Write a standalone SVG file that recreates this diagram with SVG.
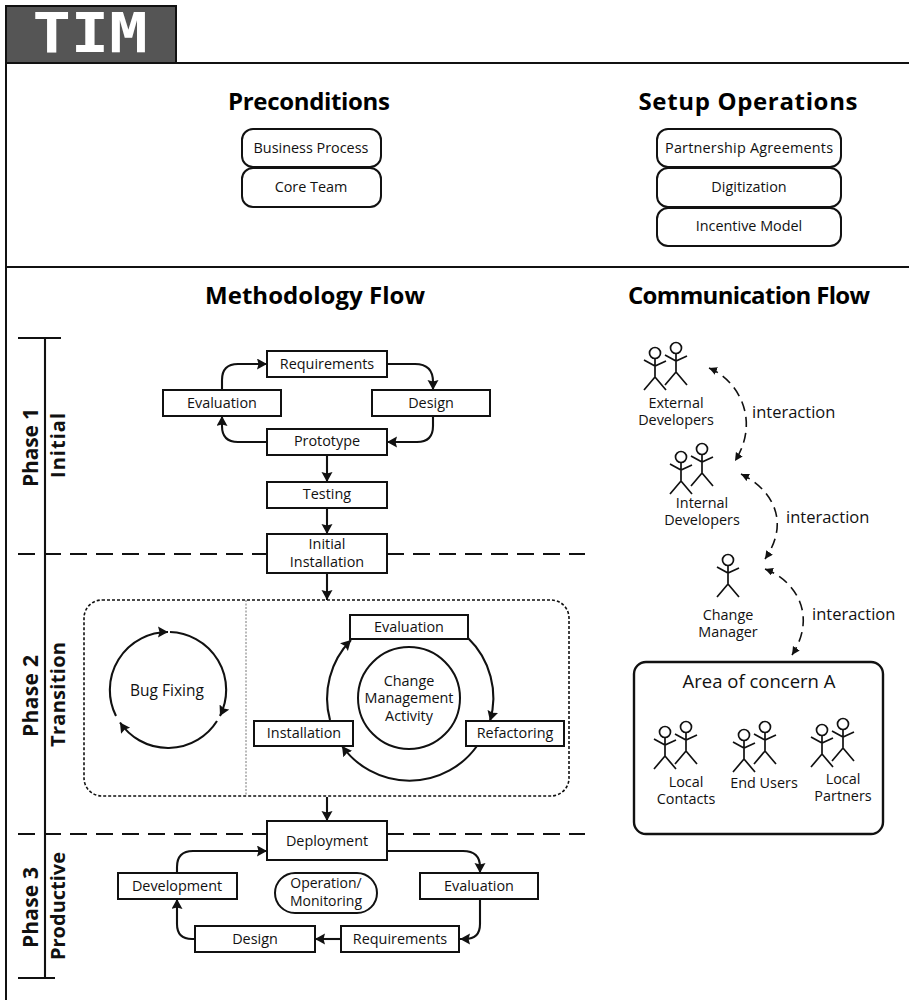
<svg xmlns="http://www.w3.org/2000/svg" width="909" height="1000" viewBox="0 0 909 1000">
<style>
text{font-family:"Open Sans","Noto Sans",sans-serif;fill:#111;text-anchor:middle;font-size:14.4px}
.h{font-size:24px;font-weight:700;fill:#000}
.ph{font-size:21px;font-weight:700}
.ps{font-size:20px;font-weight:700}
.lbl{text-anchor:start;font-size:16.5px}
.box{fill:#fff;stroke:#111;stroke-width:2}
.rr{fill:#fff;stroke:#111;stroke-width:2}
.frame{fill:none;stroke:#111;stroke-width:2}
.dash{fill:none;stroke:#111;stroke-width:2.2;stroke-dasharray:17 9}
.c{fill:none;stroke:#111;stroke-width:2.1}
.a{marker-end:url(#arr)}
.d{fill:none;stroke:#111;stroke-width:1.6;stroke-dasharray:10 6;marker-end:url(#sm);marker-start:url(#sm)}
.st{fill:none;stroke:#111;stroke-width:1.7}
</style>
<defs>
<marker id="arr" markerUnits="userSpaceOnUse" markerWidth="12" markerHeight="12" refX="10" refY="5.5" orient="auto"><path d="M0,0 L10,5.5 L0,11 L1.5,5.5 Z" fill="#111"/></marker>
<marker id="sm" markerUnits="userSpaceOnUse" markerWidth="10" markerHeight="10" refX="8" refY="4" orient="auto-start-reverse"><path d="M0,0 L8,4 L0,8 Z" fill="#111"/></marker>
<g id="stick" class="st"><circle cx="0" cy="0" r="5.5"/><path d="M0,5.5 V24 M-11,7 L0,13 L11,8 M-11,37 L0,24 L11,37"/></g>
</defs>
<rect width="909" height="1000" fill="#fff"/>
<g id="frame">
<rect x="6" y="6" width="170" height="57" fill="#555" stroke="#111" stroke-width="2"/>
<path class="frame" d="M6,6 V1000 M6,63 H909 M6,267 H909"/>
<text x="90" y="52" textLength="115" lengthAdjust="spacingAndGlyphs" style="font-family:'DejaVu Sans Mono',monospace;font-size:56px;font-weight:700;fill:#fff">TIM</text>
<text class="h" x="309" y="110" textLength="162">Preconditions</text>
<text class="h" x="748" y="110" textLength="219">Setup Operations</text>
<text class="h" x="315" y="304" textLength="220">Methodology Flow</text>
<text class="h" x="749" y="304" textLength="242">Communication Flow</text>
</g>
<g id="phases">
<path class="c" d="M45,338 V978 M18,338 H61 M18,978 H55"/>
<path class="dash" d="M18,554 H267 M387,554 H585 M18,834 H267 M387,834 H585"/>
<text class="ph" transform="translate(38,447.5) rotate(-90)" textLength="79">Phase 1</text>
<text class="ps" transform="translate(65,445.5) rotate(-90)" textLength="65">Initial</text>
<text class="ph" transform="translate(38,696) rotate(-90)" textLength="82">Phase 2</text>
<text class="ps" transform="translate(65,694.5) rotate(-90)" textLength="105">Transition</text>
<text class="ph" transform="translate(38,907.5) rotate(-90)" textLength="81">Phase 3</text>
<text class="ps" transform="translate(65,906) rotate(-90)" textLength="108">Productive</text>
</g>
<g id="connectors">
<path class="c a" d="M222,390 V380 Q222,364 238,364 H267"/>
<path class="c a" d="M387,364 H415 Q433,364 433,382 V390"/>
<path class="c a" d="M433,416 V426 Q433,442 417,442 H387"/>
<path class="c a" d="M267,442 H238 Q222,442 222,426 V416"/>
<path class="c a" d="M327,455 V482"/>
<path class="c a" d="M327,508 V534"/>
<path class="c a" d="M327,573 V600"/>
<path class="c a" d="M327,797 V821"/>
<path class="c a" d="M116,716 A58,58 0 0 1 168,632"/>
<path class="c a" d="M170,632 A58,58 0 0 1 220,716"/>
<path class="c a" d="M217,721 A58,58 0 0 1 120,722.5"/>
<path class="c a" d="M330,720 A83,83 0 0 1 351,640"/>
<path class="c a" d="M468,638 A83,83 0 0 1 490,721"/>
<path class="c a" d="M477,746 A83,83 0 0 1 342,746"/>
<path class="c a" d="M177,873 V867 Q177,851 193,851 H267"/>
<path class="c a" d="M387,851 H463 Q480,851 480,867 V873"/>
<path class="c a" d="M480,899 V924 Q480,939 465,939 H460"/>
<path class="c a" d="M341,939 H315"/>
<path class="c a" d="M195,939 H192 Q177,939 177,924 V899"/>
<path class="d" d="M709,368 C738,380 761,420 735,461"/>
<path class="d" d="M741,474 C770,488 792,520 765,559"/>
<path class="d" d="M765,569 C795,580 818,615 792,655"/>
</g>
<g id="container">
<rect x="84" y="600" width="485" height="196" rx="18" fill="none" stroke="#111" stroke-width="1.6" stroke-dasharray="3 2"/>
<path d="M246,600 V796" stroke="#777" stroke-width="1" stroke-dasharray="2 1.5" fill="none"/>
</g>
<g id="n-business-process"><rect class="rr" x="242" y="129" width="139" height="38" rx="11"/><text x="311" y="153">Business Process</text></g>
<g id="n-core-team"><rect class="rr" x="242" y="168" width="139" height="39" rx="11"/><text x="311" y="192">Core Team</text></g>
<g id="n-partnership"><rect class="rr" x="657" y="129" width="184" height="38" rx="11"/><text x="749" y="153" textLength="168">Partnership Agreements</text></g>
<g id="n-digitization"><rect class="rr" x="657" y="168" width="184" height="39" rx="11"/><text x="749" y="192">Digitization</text></g>
<g id="n-incentive"><rect class="rr" x="657" y="208" width="184" height="38" rx="11"/><text x="749" y="231">Incentive Model</text></g>
<g id="n-requirements1"><rect class="box" x="267" y="351" width="120" height="26"/><text x="327" y="369">Requirements</text></g>
<g id="n-evaluation1"><rect class="box" x="163" y="390" width="118" height="26"/><text x="222" y="408">Evaluation</text></g>
<g id="n-design1"><rect class="box" x="372" y="390" width="118" height="26"/><text x="431" y="408">Design</text></g>
<g id="n-prototype"><rect class="box" x="267" y="429" width="120" height="26"/><text x="327" y="446">Prototype</text></g>
<g id="n-testing"><rect class="box" x="267" y="482" width="120" height="26"/><text x="327" y="499">Testing</text></g>
<g id="n-initial-installation"><rect class="box" x="267" y="534" width="120" height="39"/><text x="327" y="549">Initial</text><text x="327" y="567">Installation</text></g>
<g id="n-bug-fixing"><text x="167" y="696" style="font-size:15.5px">Bug Fixing</text></g>
<g id="n-evaluation2"><rect class="box" x="350" y="615" width="118" height="24"/><text x="409" y="632">Evaluation</text></g>
<g id="n-change"><circle cx="409" cy="698" r="51" fill="#fff" stroke="#111" stroke-width="2"/><text x="409" y="686">Change</text><text x="409" y="703">Management</text><text x="409" y="721">Activity</text></g>
<g id="n-installation"><rect class="box" x="254" y="721" width="99" height="25"/><text x="304" y="738">Installation</text></g>
<g id="n-refactoring"><rect class="box" x="466" y="721" width="98" height="25"/><text x="515" y="738">Refactoring</text></g>
<g id="n-deployment"><rect class="box" x="267" y="821" width="120" height="39"/><text x="327" y="846">Deployment</text></g>
<g id="n-development"><rect class="box" x="118" y="873" width="119" height="26"/><text x="177" y="891">Development</text></g>
<g id="n-evaluation3"><rect class="box" x="420" y="873" width="118" height="26"/><text x="479" y="891">Evaluation</text></g>
<g id="n-operation"><rect class="box" x="275" y="873" width="102" height="40" rx="20"/><text x="326" y="888" style="font-size:14px">Operation/</text><text x="326" y="906" style="font-size:14px">Monitoring</text></g>
<g id="n-design3"><rect class="box" x="195" y="926" width="120" height="26"/><text x="255" y="944">Design</text></g>
<g id="n-requirements3"><rect class="box" x="341" y="926" width="118" height="26"/><text x="400" y="944">Requirements</text></g>
<g id="n-external"><use href="#stick" x="655" y="353"/><use href="#stick" x="676" y="348"/><text x="676" y="408">External</text><text x="676" y="425">Developers</text></g>
<g id="n-internal"><use href="#stick" x="681" y="457"/><use href="#stick" x="702" y="449"/><text x="702" y="508">Internal</text><text x="702" y="525">Developers</text></g>
<g id="n-change-manager"><use href="#stick" x="728" y="560"/><text x="728" y="620">Change</text><text x="728" y="637">Manager</text></g>
<g id="n-area"><rect x="634" y="662" width="249" height="172" rx="12" fill="#fff" stroke="#111" stroke-width="2.4"/><text x="759" y="688" style="font-size:18.5px">Area of concern A</text></g>
<g id="n-local-contacts"><use href="#stick" x="665" y="732"/><use href="#stick" x="686" y="727"/><text x="686" y="787">Local</text><text x="686" y="804">Contacts</text></g>
<g id="n-end-users"><use href="#stick" x="744" y="735"/><use href="#stick" x="765" y="727"/><text x="764" y="788">End Users</text></g>
<g id="n-local-partners"><use href="#stick" x="822" y="730"/><use href="#stick" x="843" y="724"/><text x="843" y="784">Local</text><text x="843" y="801">Partners</text></g>
<g id="labels"><text class="lbl" x="752" y="418">interaction</text><text class="lbl" x="786" y="523">interaction</text><text class="lbl" x="812" y="620">interaction</text></g>
</svg>
